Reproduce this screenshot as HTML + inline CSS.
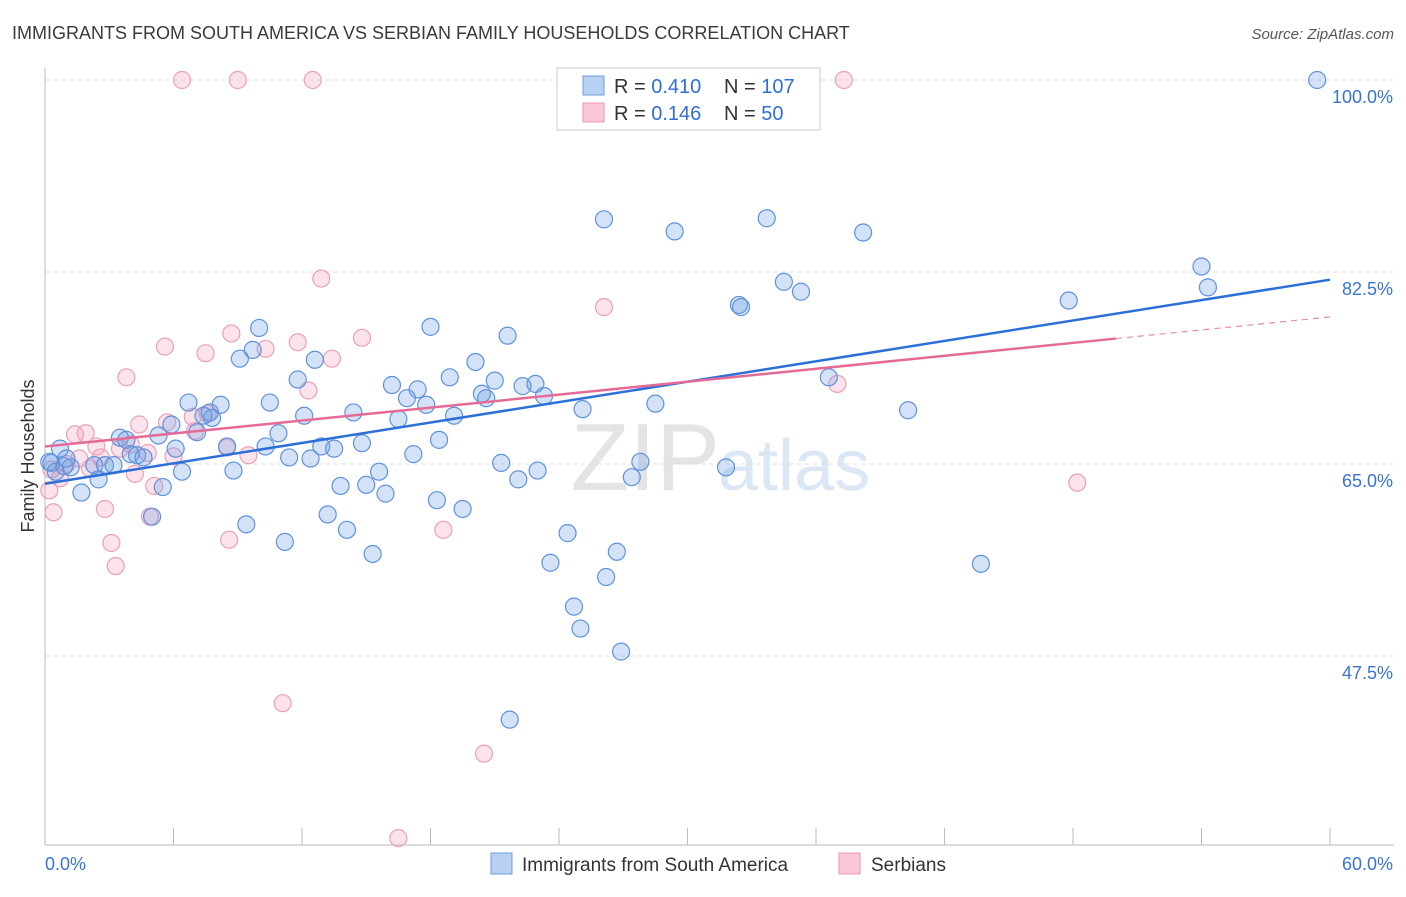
<!DOCTYPE html>
<html><head><meta charset="utf-8"><style>
body{margin:0;background:#fff;font-family:"Liberation Sans",sans-serif;}
svg text{font-family:"Liberation Sans",sans-serif;}
</style></head><body>
<svg id="c" width="1406" height="892">
<text x="12" y="39" font-size="18" fill="#3a3a3a">IMMIGRANTS FROM SOUTH AMERICA VS SERBIAN FAMILY HOUSEHOLDS CORRELATION CHART</text>
<text x="1394" y="39" font-size="15" fill="#555" font-style="italic" text-anchor="end">Source: ZipAtlas.com</text>
<text x="720" y="490" font-size="96" fill="#e4e4e4" text-anchor="end" font-family="Liberation Serif">ZIP</text>
<text x="718" y="490" font-size="72" fill="#dbe7f5">atlas</text>
<text transform="translate(34,456) rotate(-90)" font-size="18" fill="#333" text-anchor="middle">Family Households</text>
<g id="grid"></g><g id="marks"></g><g id="trend"></g>
<g>
<rect x="557" y="68" width="263" height="62" fill="#fff" stroke="#ccc"/>
<rect x="583" y="76" width="21" height="19" fill="#b8d1f3" stroke="#6d9ce0"/>
<rect x="583" y="103" width="21" height="19" fill="#f9c7d6" stroke="#e99ab5"/>
<text x="614" y="93" font-size="20" fill="#333">R = <tspan fill="#2f6fd6">0.410</tspan></text>
<text x="724" y="93" font-size="20" fill="#333">N = <tspan fill="#2f6fd6">107</tspan></text>
<text x="614" y="120" font-size="20" fill="#333">R = <tspan fill="#2f6fd6">0.146</tspan></text>
<text x="724" y="120" font-size="20" fill="#333">N = <tspan fill="#2f6fd6"> 50</tspan></text>
</g>
<g>
<rect x="491" y="853" width="21" height="21" fill="#b8d1f3" stroke="#6d9ce0"/>
<text x="522" y="871" font-size="19" fill="#333">Immigrants from South America</text>
<rect x="839" y="853" width="21" height="21" fill="#f9c7d6" stroke="#e99ab5"/>
<text x="871" y="871" font-size="19" fill="#333">Serbians</text>
</g>
</svg>
<script>
const blueX=[59.4,26.1,29.4,33.7,38.2,54.0,54.3,47.8,34.5,35.3,32.4,32.5,27.3,18.0,21.6,10.0,9.7,9.1,12.6,20.1,11.8,16.2,17.4,18.9,21.0,22.3,22.9,20.4,20.6,23.3,16.9,17.8,6.7,8.2,10.5,7.7,7.8,12.1,14.4,16.5,19.1,25.1,28.5,36.6,40.3,5.9,7.1,5.3,3.5,3.8,0.7,6.1,8.5,10.3,10.9,12.9,13.5,14.8,18.4,11.4,12.4,17.2,4.0,4.3,0.3,1.2,2.3,2.8,3.2,2.5,6.4,8.8,15.6,21.3,23.0,22.1,27.8,27.4,31.8,1.7,5.5,13.8,15.0,15.9,18.3,19.5,13.2,5.0,9.4,14.1,24.4,11.2,15.3,26.7,23.6,43.7,26.2,24.7,25.0,26.9,21.7,0.2,0.5,0.9,1.0,4.6,7.4];
const blueY=[100,87.3,86.2,87.4,86.1,83.0,81.1,79.9,81.6,80.7,79.5,79.3,100,77.5,76.7,77.4,75.4,74.6,74.5,74.3,72.7,72.2,71.8,72.9,72.6,72.1,72.3,71.4,71.0,71.2,71.0,70.4,70.6,70.4,70.6,69.7,69.2,69.4,69.7,69.1,69.4,70.0,70.5,72.9,69.9,68.6,67.9,67.6,67.4,67.2,66.4,66.4,66.6,66.6,67.8,66.6,66.4,66.9,67.2,65.6,65.5,65.9,65.9,65.8,65.1,64.7,64.9,64.9,64.9,63.6,64.3,64.4,64.3,65.1,64.4,63.6,65.2,63.8,64.7,62.4,62.9,63.0,63.1,62.3,61.7,60.9,60.4,60.2,59.5,59.0,58.7,57.9,56.8,57.0,56.0,55.9,54.7,52.0,50.0,47.9,41.7,65.2,64.3,64.8,65.5,65.6,69.4];
const pinkX=[6.4,9.0,12.5,37.3,12.9,26.1,14.8,8.7,11.8,5.6,7.5,10.3,13.4,3.8,12.3,37.0,4.4,5.7,6.9,7.6,1.4,1.9,2.4,8.5,9.5,4.8,6.0,1.6,2.6,3.5,4.2,5.1,0.7,0.2,0.4,2.8,3.1,8.6,18.6,3.3,4.9,48.2,11.1,20.5,16.5,0.3,1.0,2.1,7.0,4.0];
const pinkY=[100,100,100,100,81.9,79.3,76.5,76.9,76.1,75.7,75.1,75.5,74.6,72.9,71.7,72.3,68.6,68.8,69.3,69.6,67.7,67.8,66.6,66.5,65.8,66.0,65.7,65.5,65.6,66.4,64.1,63.0,63.7,62.6,60.6,60.9,57.8,58.1,59.0,55.7,60.2,63.3,43.2,38.6,30.9,64.5,65.0,64.6,68.0,66.8];
const trendBlue=[63.2,81.8];      // y at x=0 and x=60
const trendPink=[66.6,78.4];      // y at x=0 and x=60 (solid to 50)
const yTicks=[100,82.5,65,47.5];
const yTickLabels=["100.0%","82.5%","65.0%","47.5%"];
const xTickLabels=["0.0%","60.0%"];
const NS="http://www.w3.org/2000/svg";
const X=v=>45+v/60*1285, Y=v=>80+(100-v)*192/17.5;
function mk(t,a,p){const e=document.createElementNS(NS,t);for(const k in a)e.setAttribute(k,a[k]);p.appendChild(e);return e;}
const g=document.getElementById('grid');
yTicks.forEach((t,i)=>{
 const l=mk('line',{x1:45,x2:1394,y1:Y(t),y2:Y(t),stroke:'#ddd','stroke-dasharray':'4,4'},g);
 
 
 const tx=mk('text',{x:1393,y:Y(t)+23,'font-size':18,fill:'#3a73d0','text-anchor':'end'},g);
 tx.textContent=yTickLabels[i];
 
 
});
mk('line',{x1:45,x2:45,y1:68,y2:845,stroke:'#bbb'},g);
mk('line',{x1:45,x2:1394,y1:845,y2:845,stroke:'#bbb'},g);
for(let i=0;i<=10;i++){mk('line',{x1:X(i*6),x2:X(i*6),y1:828,y2:845,stroke:'#bbb'},g);}
[[0,45,'start'],[60,1393,'end']].forEach((d,i)=>{const t=mk('text',{x:d[1],y:870,'font-size':18,fill:'#3a73d0','text-anchor':d[2]},g);t.textContent=xTickLabels[i];
 
 });
const m=document.getElementById('marks');
pinkX.forEach((v,i)=>{const c=mk('circle',{cx:X(v),cy:Y(pinkY[i]),r:8.5,fill:'rgba(244,160,190,0.3)',stroke:'#eaa0bb','stroke-width':1.2},m);
 
 });
blueX.forEach((v,i)=>{const c=mk('circle',{cx:X(v),cy:Y(blueY[i]),r:8.5,fill:'rgba(110,160,230,0.3)',stroke:'#5f92db','stroke-width':1.2},m);
 
 });
const tr=document.getElementById('trend');
const py=x=>trendPink[0]+(trendPink[1]-trendPink[0])*x/60;
let a=mk('line',{x1:X(0),y1:Y(trendBlue[0]),x2:X(60),y2:Y(trendBlue[1]),stroke:'#2c6fd8','stroke-width':2.5},tr);


let b=mk('line',{x1:X(0),y1:Y(py(0)),x2:X(50),y2:Y(py(50)),stroke:'#e56b97','stroke-width':2.5},tr);


let d=mk('line',{x1:X(50),y1:Y(py(50)),x2:X(60),y2:Y(py(60)),stroke:'#e88aab','stroke-width':1.2,'stroke-dasharray':'6,5'},tr);


</script>
</body></html>
